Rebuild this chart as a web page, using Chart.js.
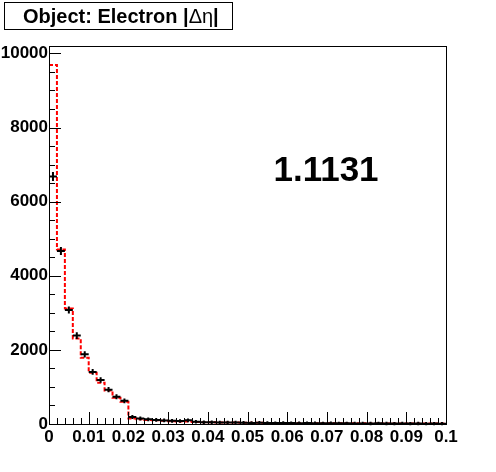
<!DOCTYPE html>
<html><head><meta charset="utf-8">
<script src="https://cdn.jsdelivr.net/npm/chart.js@4/dist/chart.umd.min.js"></script>
<style>html,body{margin:0;padding:0;background:#fff;overflow:hidden}#wrap{width:496px;height:472px}</style>
</head><body><div id="wrap"><canvas id="c" width="496" height="472"></canvas></div>
<script>
// histogram: 50 bins of width 0.002 from 0 to 0.1
const binWidth = 0.002;
const nBins = 50;
const dataValues = [6680, 4670, 3075, 2385, 1880, 1405, 1185, 925, 735, 625,
  190, 150, 125, 110, 95, 85, 80, 100, 60, 50,
  45, 40, 38, 42, 35, 30, 33, 28, 25, 27,
  24, 22, 25, 20, 18, 21, 17, 19, 15, 16,
  14, 17, 13, 12, 15, 11, 13, 10, 12, 9];
const dataErrors = [82, 68, 55, 49, 43, 37, 34, 30, 27, 25,
  14, 12, 11, 10, 10, 9, 9, 10, 8, 7,
  7, 6, 6, 6, 6, 5, 6, 5, 5, 5,
  5, 5, 5, 4, 4, 5, 4, 4, 4, 4,
  4, 4, 4, 3, 4, 3, 4, 3, 3, 3];
const mcValues = [9690, 4710, 3120, 2310, 1790, 1385, 1115, 905, 710, 600,
  150, 125, 110, 100, 85, 75, 70, 65, 55, 50,
  46, 43, 40, 38, 35, 33, 31, 29, 28, 26,
  25, 24, 23, 22, 21, 20, 19, 18, 18, 17,
  16, 16, 15, 14, 14, 13, 13, 12, 12, 11];
const xTickValues = [0, 0.01, 0.02, 0.03, 0.04, 0.05, 0.06, 0.07, 0.08, 0.09, 0.1];
const xTickLabels = ['0', '0.01', '0.02', '0.03', '0.04', '0.05', '0.06', '0.07', '0.08', '0.09', '0.1'];
const yTickValues = [0, 2000, 4000, 6000, 8000, 10000];
const yTickLabels = ['0', '2000', '4000', '6000', '8000', '10000'];
const titleParts = [['Object: Electron |', 'bold'], ['\u0394\u03b7', 'normal'], ['|', 'bold']];
const ratioText = '1.1131';

const lowEdges = dataValues.map((_, i) => i * binWidth);
const mcPoints = mcValues.map((v, i) => ({x: lowEdges[i], y: v}));
mcPoints.push({x: nBins * binWidth, y: mcValues[nBins - 1]});

const FONT = 'Liberation Sans, Arial, Helvetica, sans-serif';

const rootPlugin = {
  id: 'rootStyle',
  beforeDraw(chart) {
    const ctx = chart.ctx;
    ctx.save();
    ctx.fillStyle = '#fff';
    ctx.fillRect(0, 0, chart.width, chart.height);
    ctx.restore();
  },
  afterDatasetsDraw(chart) {
    const ctx = chart.ctx;
    const xs = chart.scales.x, ys = chart.scales.y;
    const a = chart.chartArea;
    ctx.save();
    // data points with error bars
    ctx.strokeStyle = '#000';
    ctx.lineWidth = 2;
    ctx.beginPath();
    dataValues.forEach((v, i) => {
      const x1 = xs.getPixelForValue(lowEdges[i]);
      const x2 = xs.getPixelForValue(lowEdges[i] + binWidth);
      const xc = (x1 + x2) / 2;
      const y = ys.getPixelForValue(v);
      ctx.moveTo(x1, y); ctx.lineTo(x2, y);
      ctx.moveTo(xc, ys.getPixelForValue(v - dataErrors[i]) + 1.5);
      ctx.lineTo(xc, ys.getPixelForValue(v + dataErrors[i]) - 1.5);
    });
    ctx.stroke();
    // frame
    ctx.lineWidth = 1;
    ctx.strokeRect(Math.round(a.left) + 0.5, Math.round(a.top) + 0.5,
      Math.round(a.right - a.left), Math.round(a.bottom - a.top));
    // ticks
    ctx.beginPath();
    for (let v = 0; v <= 10200; v += 500) {
      const y = Math.round(ys.getPixelForValue(v)) + 0.5;
      const len = (v % 2000 === 0) ? 12 : 6;
      ctx.moveTo(a.left, y); ctx.lineTo(a.left + len, y);
    }
    for (let k = 0; k <= 50; k++) {
      const x = Math.round(xs.getPixelForValue(k * binWidth)) + 0.5;
      const len = (k % 5 === 0) ? 12 : 6;
      ctx.moveTo(x, a.bottom); ctx.lineTo(x, a.bottom - len);
    }
    ctx.stroke();
    // title box
    ctx.strokeRect(4.5, 2.5, 228, 27);
    ctx.fillStyle = '#000';
    ctx.textBaseline = 'alphabetic';
    ctx.textAlign = 'left';
    let tx = 23;
    titleParts.forEach(([t, w]) => {
      ctx.font = w + ' 20px ' + FONT;
      ctx.fillText(t, tx, 23);
      tx += ctx.measureText(t).width;
    });
    // ratio
    ctx.textAlign = 'center';
    ctx.font = 'bold 35px ' + FONT;
    ctx.fillText(ratioText, 326, 181);
    ctx.restore();
  }
};

new Chart(document.getElementById('c'), {
  type: 'line',
  data: {
    datasets: [{
      data: mcPoints,
      borderColor: '#ff0000',
      borderWidth: 2,
      borderDash: [4, 2],
      stepped: 'before',
      pointRadius: 0,
      fill: false
    }]
  },
  options: {
    responsive: false,
    animation: false,
    layout: {padding: {left: 0, right: 50, top: 46, bottom: 0}},
    plugins: {legend: {display: false}, tooltip: {enabled: false}, title: {display: false}},
    scales: {
      x: {
        type: 'linear', min: 0, max: 0.1,
        afterBuildTicks: s => { s.ticks = xTickValues.map(v => ({value: v})); },
        afterFit: s => { s.height = 48; },
        ticks: {
          callback: (v, i) => xTickLabels[i],
          font: {family: FONT, weight: 'bold', size: 17},
          color: '#000', padding: 3, maxRotation: 0, autoSkip: false
        },
        grid: {display: false, drawTicks: false},
        border: {display: true, color: '#000', width: 1}
      },
      y: {
        type: 'linear', min: 0, max: 10200,
        afterBuildTicks: s => { s.ticks = yTickValues.map(v => ({value: v})); },
        afterFit: s => { s.width = 49; },
        ticks: {
          callback: (v, i) => yTickLabels[i],
          font: {family: FONT, weight: 'bold', size: 17},
          color: '#000', padding: 1, autoSkip: false
        },
        grid: {display: false, drawTicks: false},
        border: {display: true, color: '#000', width: 1}
      }
    }
  },
  plugins: [rootPlugin]
});
</script></body></html>
